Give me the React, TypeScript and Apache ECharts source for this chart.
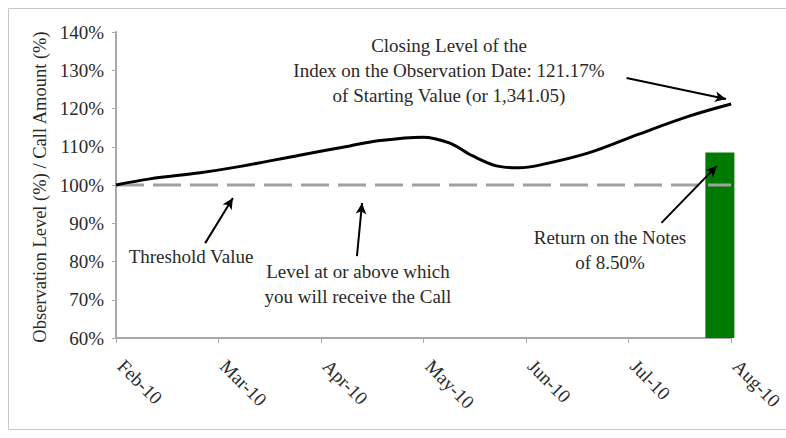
import React, { useEffect, useRef } from "react";
import * as echarts from "echarts";

// Tick labels (x axis = months since Feb-10)
const monthLabels = ["Feb-10", "Mar-10", "Apr-10", "May-10", "Jun-10", "Jul-10", "Aug-10"];
// Index level (% of starting value) at month offsets
const indexMonths = [0, 0.33, 0.82, 1.2, 1.79, 2.28, 2.54, 2.99, 3.25, 3.48, 3.71, 3.93, 4.13, 4.61, 5.1, 5.59, 6];
const indexLevels = [100, 101.6, 103.2, 104.8, 107.8, 110.2, 111.5, 112.5, 111, 107.6, 105, 104.5, 105.2, 108.4, 113.3, 118, 121.17];
// Threshold value line
const thresholdMonths = [0, 6];
const thresholdLevels = [100, 100];
// Call amount bar
const callMonth = [5.89];
const callAmount = [108.5];

const Y_MIN = 60;
const Y_MAX = 140;
const FONT = "'Liberation Serif', 'Times New Roman', serif";
const TXT = "#2a2a2a";

export default function App() {
  const ref = useRef<HTMLDivElement>(null);
  useEffect(() => {
    if (!ref.current) return;
    const chart = echarts.init(ref.current, undefined, { renderer: "svg" });
    const arrow = (from: number[], to: number[]) => [
      { coord: from, symbol: "none" },
      { coord: to, symbol: "arrow" },
    ];
    chart.setOption({
      animation: false,
      backgroundColor: "#ffffff",
      grid: { left: 116, right: 54, top: 32, bottom: 100 },
      xAxis: {
        type: "value",
        min: 0,
        max: 6,
        interval: 1,
        splitLine: { show: false },
        axisLine: { lineStyle: { color: "#a8a8a8", width: 2 } },
        axisTick: { show: true, length: 5, lineStyle: { color: "#a8a8a8" } },
        axisLabel: {
          rotate: -45,
          margin: 20,
          padding: [0, 0, 0, 7],
          color: TXT,
          fontFamily: FONT,
          fontSize: 19,
          formatter: (v: number) => monthLabels[Math.round(v)] ?? "",
        },
      },
      yAxis: {
        type: "value",
        min: Y_MIN,
        max: Y_MAX,
        interval: 10,
        splitLine: { show: false },
        axisLine: { show: true, lineStyle: { color: "#a8a8a8", width: 2 } },
        axisTick: { show: true, length: 4, lineStyle: { color: "#a8a8a8" } },
        axisLabel: {
          margin: 12,
          color: TXT,
          fontFamily: FONT,
          fontSize: 19,
          formatter: (v: number) => `${v}%`,
        },
      },
      graphic: [
        {
          type: "rect",
          shape: { x: 8.5, y: 8.5, width: 800, height: 421 },
          style: { fill: "none", stroke: "#c8c8c8", lineWidth: 1 },
          silent: true,
        },
        {
          type: "text",
          x: 40,
          y: 187,
          rotation: Math.PI / 2,
          style: {
            text: "Observation Level (%) / Call Amount (%)",
            fill: TXT,
            font: `18.5px ${FONT}`,
            align: "center",
            verticalAlign: "middle",
          },
        },
        {
          type: "text",
          x: 449,
          y: 70,
          style: {
            text: "Closing Level of the\nIndex on the Observation Date: 121.17%\nof Starting Value (or 1,341.05)",
            fill: TXT,
            font: `19px ${FONT}`,
            align: "center",
            verticalAlign: "middle",
            lineHeight: 25,
          },
        },
        {
          type: "text",
          x: 191,
          y: 256,
          style: {
            text: "Threshold Value",
            fill: TXT,
            font: `19px ${FONT}`,
            align: "center",
            verticalAlign: "middle",
          },
        },
        {
          type: "text",
          x: 358,
          y: 284,
          style: {
            text: "Level at or above which\nyou will receive the Call",
            fill: TXT,
            font: `19px ${FONT}`,
            align: "center",
            verticalAlign: "middle",
            lineHeight: 25,
          },
        },
        {
          type: "text",
          x: 610,
          y: 250,
          style: {
            text: "Return on the Notes\nof 8.50%",
            fill: TXT,
            font: `19px ${FONT}`,
            align: "center",
            verticalAlign: "middle",
            lineHeight: 25,
          },
        },
      ],
      series: [
        {
          type: "custom",
          data: callMonth.map((m, i) => [m, callAmount[i]]),
          clip: false,
          z: 1,
          renderItem: (_params: any, api: any) => {
            const x = api.value(0);
            const v = api.value(1);
            const top = api.coord([x, v]);
            const base = api.coord([x, Y_MIN]);
            const w = 29;
            return {
              type: "rect",
              shape: { x: top[0] - w / 2, y: top[1], width: w, height: base[1] - top[1] },
              style: { fill: "#007a00" },
            };
          },
        },
        {
          type: "line",
          data: thresholdMonths.map((m, i) => [m, thresholdLevels[i]]),
          symbol: "none",
          lineStyle: { color: "#a0a0a0", width: 3, type: [28, 9] },
          z: 2,
        },
        {
          type: "line",
          data: indexMonths.map((m, i) => [m, indexLevels[i]]),
          symbol: "none",
          smooth: 0.35,
          lineStyle: { color: "#000000", width: 3 },
          z: 3,
          markLine: {
            silent: true,
            symbolSize: [8, 11],
            label: { show: false },
            lineStyle: { color: "#000000", width: 2, type: "solid" },
            data: [
              arrow([4.98, 128.0], [5.95, 122.5]),
              arrow([0.87, 84.8], [1.14, 96.6]),
              arrow([2.35, 81.4], [2.4, 95.3]),
              arrow([5.32, 90.1], [5.86, 105.0]),
            ],
          },
        },
      ],
    });
    return () => chart.dispose();
  }, []);
  return (
    <div
      ref={ref}
      style={{ position: "fixed", left: 0, top: 0, width: 786, height: 438 }}
    />
  );
}
